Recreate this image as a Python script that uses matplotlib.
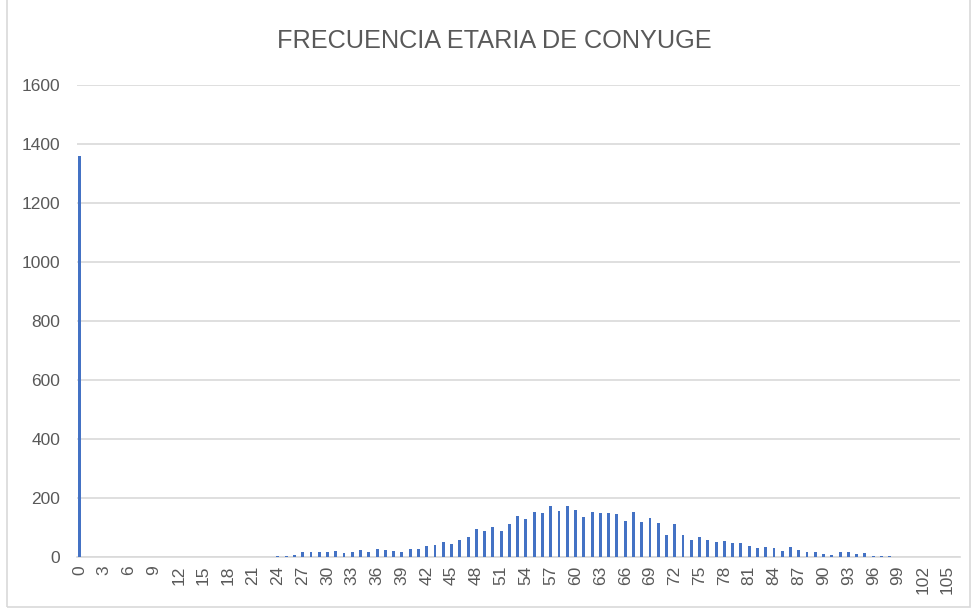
import matplotlib.pyplot as plt
from matplotlib.patches import Rectangle

#---datos---#
edades = list(range(0, 107))
frecuencias = ([1360] + [0] * 23 +
               [4, 5, 8, 16, 16, 16, 16, 19, 12, 16,      # 24-33
                23, 16, 26, 23, 19, 16, 26, 26, 37, 41,   # 34-43
                52, 45, 59, 69, 95, 87, 102, 87, 113, 140,  # 44-53
                130, 151, 148, 174, 155, 174, 159, 137, 151, 148,  # 54-63
                148, 145, 122, 151, 119, 133, 115, 76, 113, 76,  # 64-73
                58, 69, 58, 52, 54, 49, 48, 37, 31, 33,   # 74-83
                31, 19, 33, 23, 16, 16, 11, 8, 18, 16,    # 84-93
                11, 15, 5, 5, 5] + [0] * 8)               # 94-106
etiquetas_x = [str(e) for e in edades[::3]]
etiquetas_y = [0, 200, 400, 600, 800, 1000, 1200, 1400, 1600]

TITULO = 'FRECUENCIA ETARIA DE CONYUGE'
GRIS = '#595959'

plt.rcParams['font.family'] = ['Liberation Sans Narrow', 'Liberation Sans', 'DejaVu Sans']

fig = plt.figure(figsize=(9.72, 6.1), dpi=100)
fig.patches.append(Rectangle((7 / 972, 3 / 610), 963 / 972, 610 / 610, transform=fig.transFigure,
                             fill=False, edgecolor='#D9D9D9', linewidth=1.2))
ax = fig.add_axes([77 / 972, 53 / 610, 883 / 972, 472 / 610])

ax.bar(edades, frecuencias, width=0.35, color='#4472C4', zorder=3)

ax.set_xlim(-0.3, 106.5)
ax.set_ylim(0, 1600)
ax.set_yticks(etiquetas_y)
ax.set_xticks(edades[::3])
ax.set_xticklabels(etiquetas_x, rotation=90)
ax.tick_params(axis='both', length=0, colors=GRIS, labelsize=12.5)
ax.tick_params(axis='y', pad=12)
ax.tick_params(axis='x', pad=6)
ax.grid(axis='y', color='#D9D9D9', linewidth=1.2, zorder=0)
for lado in ['top', 'right', 'left']:
    ax.spines[lado].set_visible(False)
ax.spines['bottom'].set_color('#D9D9D9')
ax.spines['bottom'].set_linewidth(1.2)

fig.text(0.509, 0.932, TITULO, ha='center', va='center', fontsize=18.2, color=GRIS)

plt.savefig('out.png', dpi=100)
